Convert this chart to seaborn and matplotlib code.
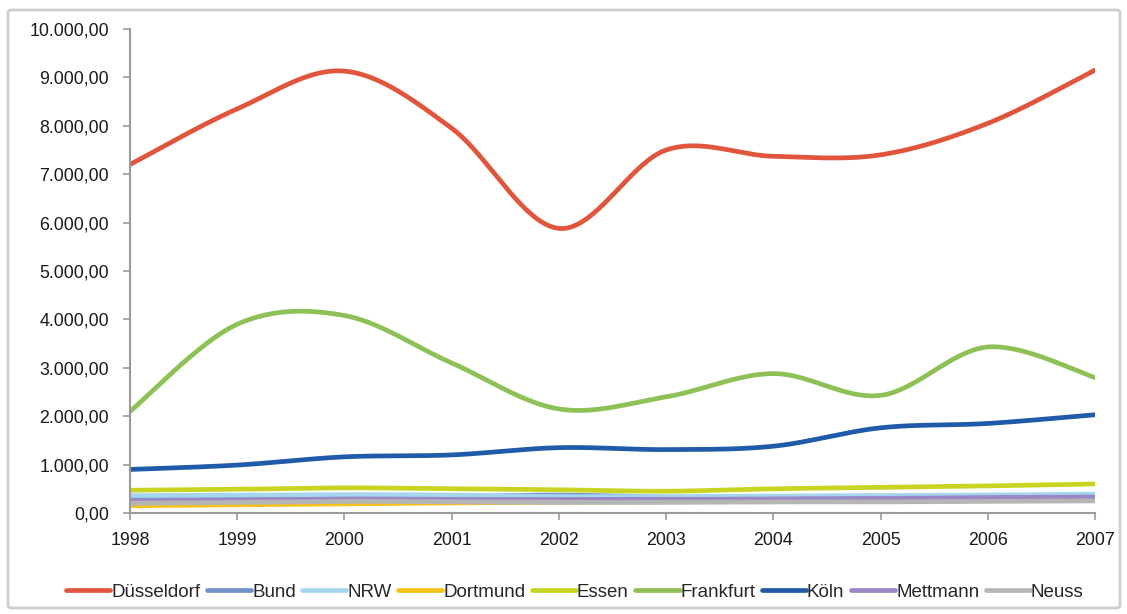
import numpy as np
import pandas as pd
import matplotlib
matplotlib.use("Agg")
import matplotlib.pyplot as plt
from matplotlib.patches import FancyBboxPatch
from matplotlib.ticker import FuncFormatter
import seaborn as sns

# Annual values per location
years = [1998, 1999, 2000, 2001, 2002, 2003, 2004, 2005, 2006, 2007]
duesseldorf = [7200, 8350, 9130, 7950, 5880, 7500, 7370, 7400, 8050, 9150]
bund = [300, 310, 330, 340, 370, 330, 320, 320, 330, 340]
nrw = [360, 370, 380, 370, 340, 340, 350, 360, 370, 390]
dortmund = [150, 170, 190, 210, 220, 230, 240, 250, 260, 270]
essen = [470, 490, 520, 500, 480, 450, 500, 530, 560, 600]
frankfurt = [2100, 3900, 4080, 3100, 2150, 2400, 2880, 2430, 3430, 2800]
koeln = [900, 990, 1160, 1200, 1350, 1310, 1380, 1760, 1850, 2030]
mettmann = [250, 270, 290, 280, 280, 280, 290, 300, 320, 330]
neuss = [200, 220, 240, 230, 220, 220, 230, 230, 240, 250]

series_names = ["Düsseldorf", "Bund", "NRW", "Dortmund", "Essen",
                "Frankfurt", "Köln", "Mettmann", "Neuss"]
series_values = [duesseldorf, bund, nrw, dortmund, essen,
                 frankfurt, koeln, mettmann, neuss]
colors = ["#E0553C", "#7191C9", "#A4D6EE", "#F6C21C", "#C9D422",
          "#8DC155", "#1F5BA8", "#9A88C6", "#B5B5B5"]


def smooth(x, y, steps=40):
    """Catmull-Rom spline through the points, as spreadsheet 'smoothed lines' do."""
    x = np.asarray(x, float)
    y = np.asarray(y, float)
    px = np.concatenate([[x[0]], x, [x[-1]]])
    py = np.concatenate([[y[0]], y, [y[-1]]])
    xs, ys = [], []
    t = np.linspace(0, 1, steps, endpoint=False)
    for i in range(1, len(px) - 2):
        for arr, out in ((px, xs), (py, ys)):
            p0, p1, p2, p3 = arr[i - 1], arr[i], arr[i + 1], arr[i + 2]
            out.append(0.5 * ((2 * p1) + (-p0 + p2) * t
                              + (2 * p0 - 5 * p1 + 4 * p2 - p3) * t ** 2
                              + (-p0 + 3 * p1 - 3 * p2 + p3) * t ** 3))
    xs.append([x[-1]])
    ys.append([y[-1]])
    return np.concatenate(xs), np.concatenate(ys)


frames = []
for name, vals in zip(series_names, series_values):
    sx, sy = smooth(years, vals)
    frames.append(pd.DataFrame({"Jahr": sx, "Wert": sy, "Ort": name}))
df = pd.concat(frames, ignore_index=True)

sns.set_theme(style="white")
plt.rcParams["font.family"] = ["Liberation Sans", "DejaVu Sans"]

fig = plt.figure(figsize=(11.27, 6.14), dpi=100)
ax = fig.add_axes([130 / 1127, 1 - 513 / 614, (1095 - 130) / 1127, (513 - 29) / 614])

sns.lineplot(data=df, x="Jahr", y="Wert", hue="Ort", hue_order=series_names,
             palette=colors, linewidth=3.4, sort=False, estimator=None,
             ax=ax, legend=False)

ax.set_xlim(1998, 2007)
ax.set_ylim(0, 10000)
ax.set_xticks(years)
ax.set_xticklabels([str(y) for y in years])
ax.set_yticks(np.arange(0, 10001, 1000))


def de_fmt(v, _):
    s = f"{v:,.2f}"
    return s.replace(",", "X").replace(".", ",").replace("X", ".")


ax.yaxis.set_major_formatter(FuncFormatter(de_fmt))
ax.set_xlabel("")
ax.set_ylabel("")
for side in ("top", "right"):
    ax.spines[side].set_visible(False)
for side in ("left", "bottom"):
    ax.spines[side].set_color("#9a9a9a")
    ax.spines[side].set_linewidth(1.5)
ax.tick_params(axis="both", which="major", direction="out", length=5,
               width=1.2, color="#9a9a9a", labelsize=12.8, labelcolor="#1a1a1a",
               bottom=True, left=True)
ax.tick_params(axis="y", pad=10)
ax.tick_params(axis="x", pad=9)

handles = [plt.Line2D([0], [0], color=c, linewidth=3.4) for c in colors]
fig.legend(handles, series_names, loc="center",
           bbox_to_anchor=(575 / 1127, 1 - 592 / 614),
           bbox_transform=fig.transFigure, ncol=9, frameon=False,
           fontsize=13.5, handlelength=2.35, handletextpad=0.05,
           columnspacing=0.35)

frame = FancyBboxPatch((8 / 1127, 6 / 614), 1112 / 1127, 598 / 614,
                       boxstyle="round,pad=0,rounding_size=0.004",
                       transform=fig.transFigure, fill=False,
                       edgecolor="#cfcfcf", linewidth=2)
fig.patches.append(frame)

fig.savefig("out.png", dpi=100)
